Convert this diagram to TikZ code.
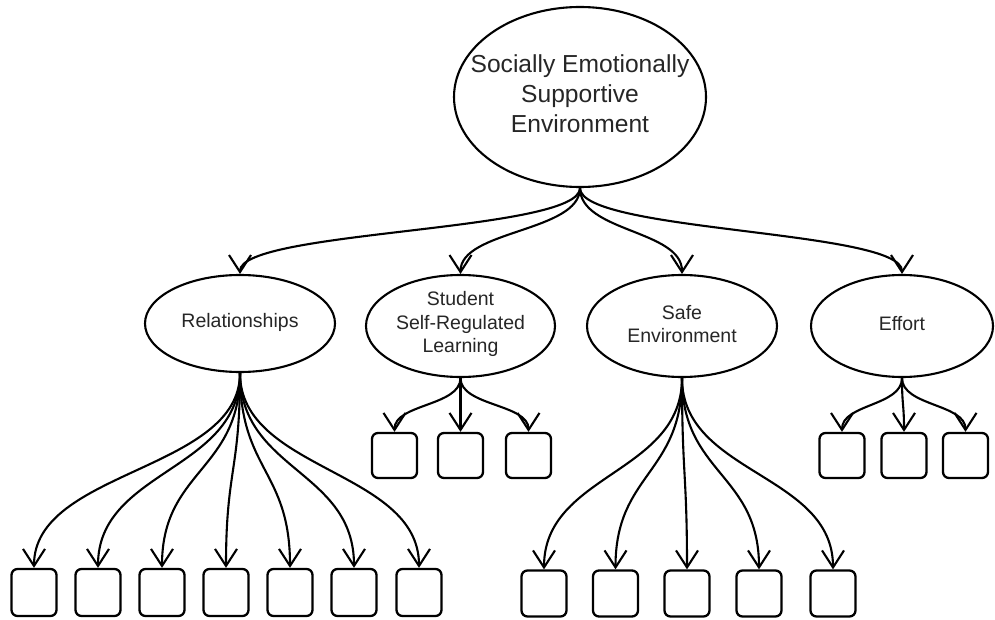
\documentclass[tikz,border=0pt]{standalone}
\usepackage{fontspec}
\setmainfont{Liberation Sans}
\usetikzlibrary{arrows.meta,shapes.geometric}
\begin{document}
\begin{tikzpicture}[x=1pt,y=-1pt,
  oval/.style={draw,ellipse,line width=2.1pt,inner sep=0pt},
  leaf/.style={draw,rectangle,rounded corners=6pt,line width=2.3pt,
    minimum width=45pt,minimum height=45pt,inner sep=0pt},
  link/.style={line width=2.1pt,-{Straight Barb[length=17pt,width=22pt]}},
  bigtxt/.style={font=\fontsize{24.6}{30}\selectfont,align=center,inner sep=0pt,text=black!85},
  midtxt/.style={font=\fontsize{19.5}{23.5}\selectfont,align=center,inner sep=0pt,text=black!85}]
\useasboundingbox (0,0) rectangle (995,620);

% root construct
\node[oval,minimum width=252pt,minimum height=180pt] (top) at (580,97) {};
\node[bigtxt] (topL) at (580,94) {Socially Emotionally\\Supportive\\Environment};

% second-level constructs
\node[oval,minimum width=190pt,minimum height=97pt]  (rel)  at (240,323.5) {};
\node[oval,minimum width=189pt,minimum height=102pt] (stu)  at (460.5,326) {};
\node[oval,minimum width=190pt,minimum height=102pt] (safe) at (682,326) {};
\node[oval,minimum width=182pt,minimum height=102pt] (eff)  at (902,326) {};
\node[midtxt] (relL)  at (240,322) {Relationships};
\node[midtxt] (stuL)  at (460.5,324) {Student\\Self-Regulated\\Learning};
\node[midtxt] (safeL) at (682,324) {Safe\\Environment};
\node[midtxt] (effL)  at (902,324) {Effort};

% indicator boxes
\foreach \x [count=\i] in {34,98,162,226,290,354,419}
  \node[leaf,minimum height=47pt] (r\i) at (\x,592.5) {};
\foreach \x [count=\i] in {394.5,460.5,528.5}
  \node[leaf] (s\i) at (\x,455.5) {};
\foreach \x [count=\i] in {544,615.5,687,759,833}
  \node[leaf,minimum height=46pt] (e\i) at (\x,593.5) {};
\foreach \x [count=\i] in {842,904,965.5}
  \node[leaf] (f\i) at (\x,455.5) {};

% root to constructs
\foreach \n in {rel,stu,safe,eff}
  \draw[link] (top.south) .. controls +(0,44) and +(0,-44) .. (\n.north);

% constructs to indicators
\foreach \i in {1,...,7}
  \draw[link] (rel.south) .. controls +(0,98) and +(0,-98) .. (r\i.north);
\foreach \i in {1,...,3}
  \draw[link] (stu.south) .. controls +(0,28) and +(0,-28) .. (s\i.north);
\foreach \i in {1,...,5}
  \draw[link] (safe.south) .. controls +(0,96) and +(0,-96) .. (e\i.north);
\foreach \i in {1,...,3}
  \draw[link] (eff.south) .. controls +(0,28) and +(0,-28) .. (f\i.north);
\end{tikzpicture}
\end{document}
